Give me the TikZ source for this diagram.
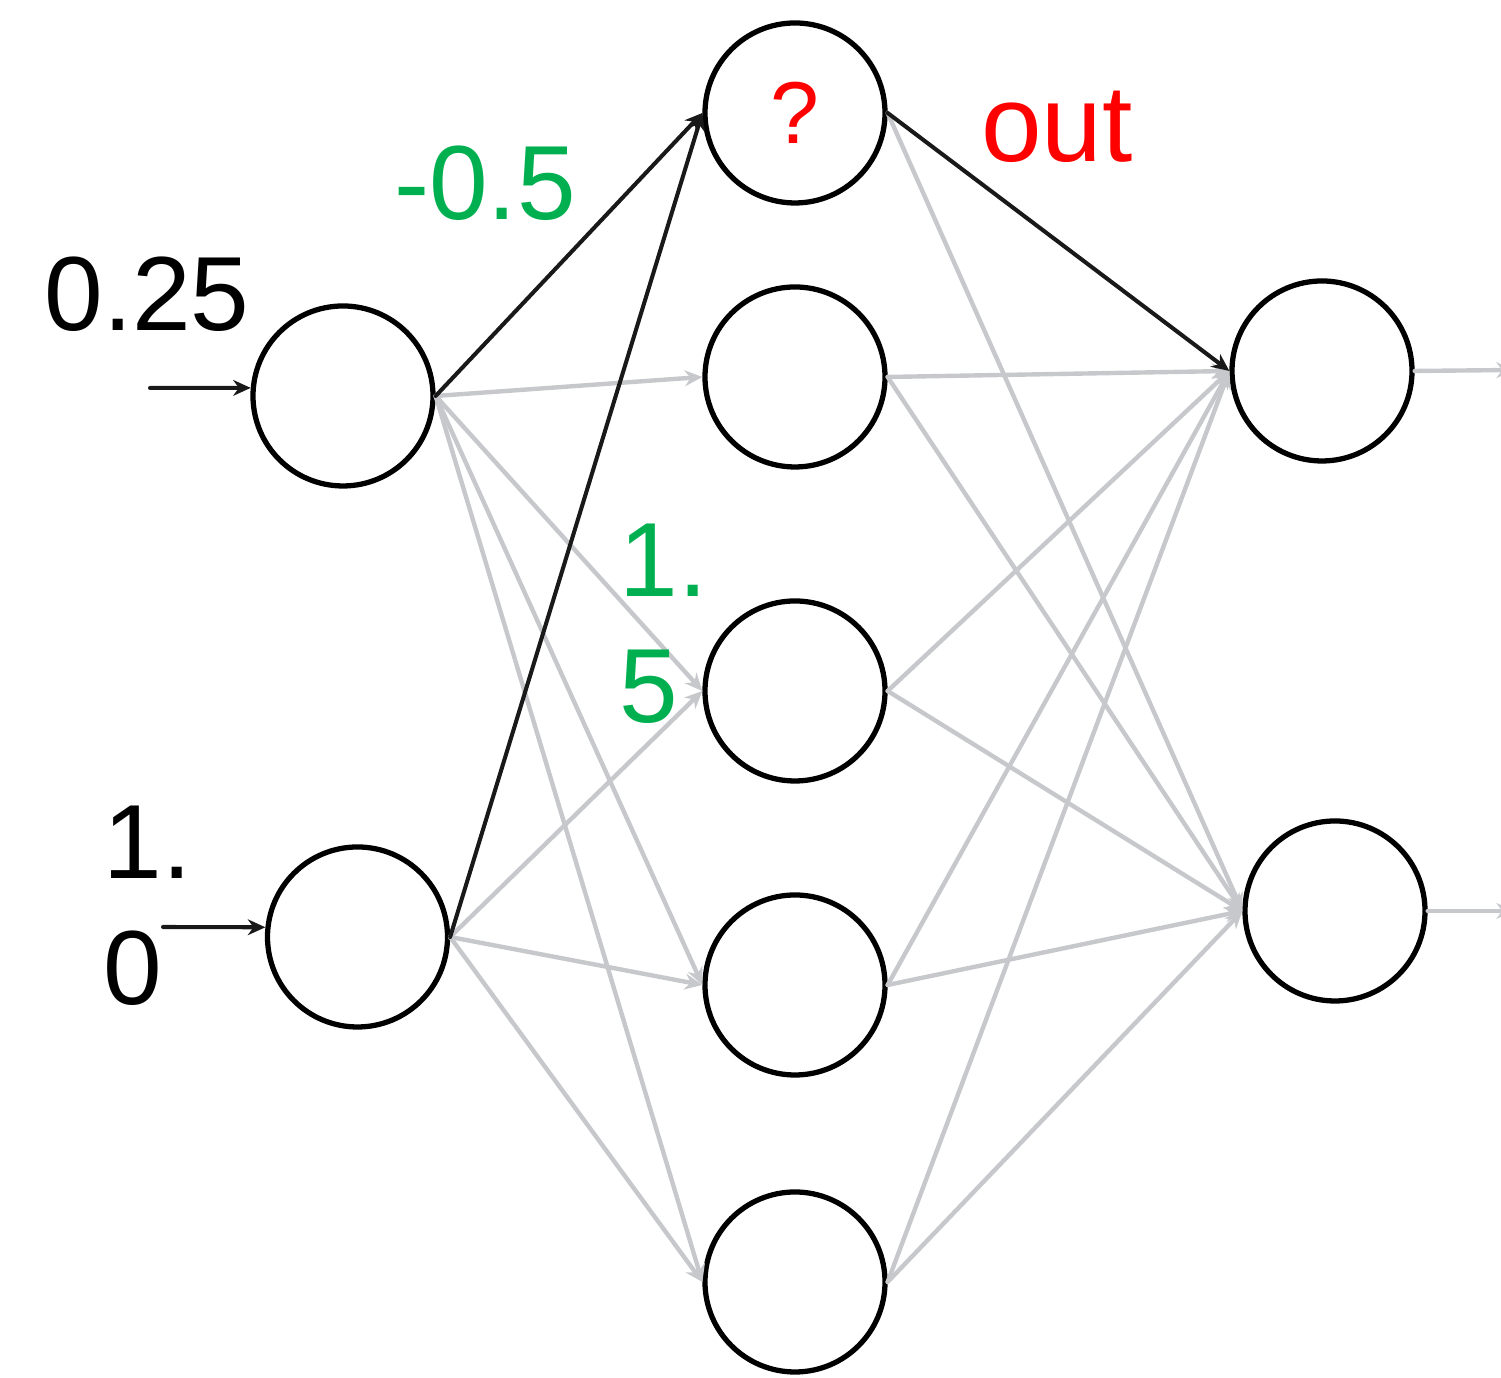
\documentclass[tikz,border=0pt]{standalone}
\usepackage{fontspec}
\setmainfont{Liberation Sans}
\usetikzlibrary{arrows.meta}
\definecolor{wgreen}{RGB}{0,176,80}
\definecolor{edgegray}{RGB}{198,200,203}
\begin{document}
\begin{tikzpicture}[>={Stealth[length=5pt,width=4.5pt]}, line join=round, line cap=round,
	neuron/.style={circle,draw=black,line width=1.5pt,minimum size=1.8cm,inner sep=0pt},
	weak/.style={->,draw=edgegray,line width=1.25pt},
	strong/.style={->,draw=black!90,line width=1.15pt},
	num/.style={font=\fontsize{30}{36}\selectfont,inner sep=0pt,align=left}]
	\useasboundingbox (0,0) rectangle (15.01,13.78);
	% Neuronen
	\node[neuron] (i1) at (3.43,9.82) {};
	\node[neuron] (i2) at (3.575,4.41) {};
	\node[neuron,text=red,font=\fontsize{25}{30}\selectfont] (h1) at (7.95,12.65) {?};
	\node[neuron] (h2) at (7.95,10.01) {};
	\node[neuron] (h3) at (7.95,6.87) {};
	\node[neuron] (h4) at (7.95,3.93) {};
	\node[neuron] (h5) at (7.95,0.96) {};
	\node[neuron] (o1) at (13.22,10.07) {};
	\node[neuron] (o2) at (13.35,4.67) {};
	% Verbindungen
	\foreach \j in {2,...,5} \draw[weak] (i1.east) -- (h\j.west);
	\foreach \j in {3,...,5} \draw[weak] (i2.east) -- (h\j.west);
	\foreach \j in {2,...,5} \foreach \k in {1,2} \draw[weak] (h\j.east) -- (o\k.west);
	\draw[weak] (h1.east) -- (o2.west);
	\draw[strong] (i1.east) -- (h1.west);
	\draw[strong] (i2.east) -- (h1.west);
	\draw[strong] (h1.east) -- (o1.west);
	% Ein- und Ausgaenge
	\coordinate (x1) at (1.50,9.90);
	\coordinate (x2) at (1.63,4.51);
	\draw[strong] (x1) -- (i1.175);
	\draw[strong] (x2) -- (i2.174);
	\coordinate (y1) at (15.14,10.08);
	\coordinate (y2) at (15.14,4.67);
	\draw[weak] (o1.east) -- (y1);
	\draw[weak] (o2.east) -- (y2);
	% Werte
	\node[num,anchor=base] (v1) at (1.47,10.47) {0.25};
	\node[num,anchor=base west] (v2) at (1.03,3.73) {1.\\0};
	\node[num,anchor=base,text=wgreen] (w1) at (4.85,11.58) {-0.5};
	\node[num,anchor=base west,text=wgreen] (w2) at (6.19,6.55) {1.\\5};
	\node[num,anchor=base,text=red,font=\fontsize{31}{36}\selectfont] (res) at (10.57,12.16) {out};
\end{tikzpicture}
\end{document}
